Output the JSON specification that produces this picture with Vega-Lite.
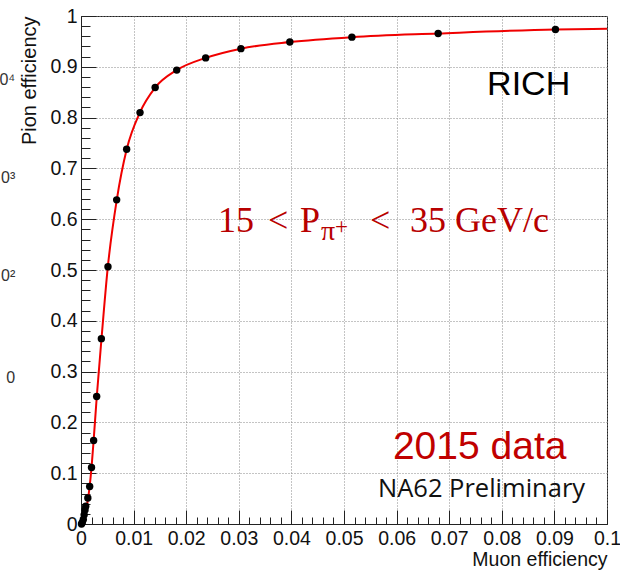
{
  "$schema": "https://vega.github.io/schema/vega-lite/v6.json",
  "autosize": "none",
  "padding": {"left": 81, "top": 16, "right": 13, "bottom": 46},
  "width": 526,
  "height": 508,
  "background": "white",
  "config": {
    "view": {"stroke": "#222", "strokeWidth": 1}
  },
  "datasets": {
    "pts": [
      {"x": 0.0001, "y": 0.0},
      {"x": 0.00025, "y": 0.003},
      {"x": 0.00044, "y": 0.009},
      {"x": 0.0006, "y": 0.018},
      {"x": 0.00076, "y": 0.0276},
      {"x": 0.0009, "y": 0.035},
      {"x": 0.0013, "y": 0.0513},
      {"x": 0.00165, "y": 0.0737},
      {"x": 0.002, "y": 0.1112},
      {"x": 0.0024, "y": 0.1645},
      {"x": 0.00298, "y": 0.2509},
      {"x": 0.00387, "y": 0.3649},
      {"x": 0.00513, "y": 0.5064},
      {"x": 0.00678, "y": 0.6381},
      {"x": 0.00868, "y": 0.7377},
      {"x": 0.01122, "y": 0.8098},
      {"x": 0.0141, "y": 0.8591},
      {"x": 0.0182, "y": 0.8935},
      {"x": 0.0237, "y": 0.9175},
      {"x": 0.0304, "y": 0.9357},
      {"x": 0.0397, "y": 0.9487},
      {"x": 0.0515, "y": 0.9584},
      {"x": 0.0679, "y": 0.9656},
      {"x": 0.0902, "y": 0.9735}
    ],
    "fit": [
      {"x": 0, "y": 0},
      {"x": 0.0005, "y": 0.012},
      {"x": 0.001, "y": 0.03},
      {"x": 0.0015, "y": 0.062},
      {"x": 0.002, "y": 0.111},
      {"x": 0.0024, "y": 0.1645},
      {"x": 0.003, "y": 0.251},
      {"x": 0.0039, "y": 0.365},
      {"x": 0.0051, "y": 0.506},
      {"x": 0.0068, "y": 0.638},
      {"x": 0.0087, "y": 0.738},
      {"x": 0.0112, "y": 0.81},
      {"x": 0.0141, "y": 0.859},
      {"x": 0.0182, "y": 0.8935},
      {"x": 0.0237, "y": 0.9175},
      {"x": 0.0304, "y": 0.9357},
      {"x": 0.0397, "y": 0.9487},
      {"x": 0.0515, "y": 0.9584},
      {"x": 0.0679, "y": 0.9656},
      {"x": 0.0902, "y": 0.9735},
      {"x": 0.1, "y": 0.9748}
    ]
  },
  "resolve": {"axis": {"x": "independent", "y": "independent"}},
  "layer": [
    {
      "data": {"name": "fit"},
      "mark": {"type": "line", "color": "#f00000", "strokeWidth": 2, "interpolate": "monotone"},
      "encoding": {
        "x": {
          "field": "x", "type": "quantitative",
          "scale": {"domain": [0, 0.1], "nice": false, "zero": false},
          "axis": {
            "orient": "bottom",
            "title": "Muon efficiency",
            "values": [0, 0.01, 0.02, 0.03, 0.04, 0.05, 0.06, 0.07, 0.08, 0.09, 0.1],
            "labelExpr": "format(datum.value, '.2~f')",
            "tickSize": -14,
            "tickColor": "#222",
            "domainColor": "#222",
            "grid": true,
            "gridColor": "#888",
            "gridDash": [1, 2],
            "gridWidth": 1,
            "labelFont": "Liberation Sans",
            "labelFontSize": 19.5,
            "labelColor": "#111",
            "labelPadding": 19,
            "labelOverlap": false,
            "labelFlush": false,
            "labelBound": false,
            "titleFont": "Liberation Sans",
            "titleFontSize": 19.5,
            "titleFontWeight": "normal",
            "titleColor": "#111",
            "titleAnchor": "end",
            "titleAlign": "right",
            "titleBaseline": "alphabetic",
            "titleX": 526,
            "titleY": 41.5
          }
        },
        "y": {
          "field": "y", "type": "quantitative",
          "scale": {"domain": [0, 1], "nice": false, "zero": false},
          "axis": {
            "orient": "left",
            "title": "Pion efficiency",
            "values": [0, 0.1, 0.2, 0.3, 0.4, 0.5, 0.6, 0.7, 0.8, 0.9, 1],
            "labelExpr": "format(datum.value, '.1~f')",
            "tickSize": -15,
            "tickColor": "#222",
            "domainColor": "#222",
            "grid": true,
            "gridColor": "#888",
            "gridDash": [1, 2],
            "gridWidth": 1,
            "labelFont": "Liberation Sans",
            "labelFontSize": 19.5,
            "labelColor": "#111",
            "labelPadding": 19,
            "labelOverlap": false,
            "labelFlush": false,
            "labelBound": false,
            "titleFont": "Liberation Sans",
            "titleFontSize": 20,
            "titleFontWeight": "normal",
            "titleColor": "#111",
            "titleAngle": 270,
            "titleAlign": "right",
            "titleBaseline": "top",
            "titleX": -62,
            "titleY": 0
          }
        }
      }
    },
    {
      "data": {"name": "pts"},
      "mark": {"type": "circle", "color": "#000", "size": 55, "opacity": 1},
      "encoding": {
        "x": {
          "field": "x", "type": "quantitative",
          "scale": {"domain": [0, 0.1], "nice": false, "zero": false},
          "axis": {
            "orient": "bottom",
            "title": null,
            "values": [0,0.002,0.004,0.006,0.008,0.01,0.012,0.014,0.016,0.018,0.02,0.022,0.024,0.026,0.028,0.03,0.032,0.034,0.036,0.038,0.04,0.042,0.044,0.046,0.048,0.05,0.052,0.054,0.056,0.058,0.06,0.062,0.064,0.066,0.068,0.07,0.072,0.074,0.076,0.078,0.08,0.082,0.084,0.086,0.088,0.09,0.092,0.094,0.096,0.098,0.1],
            "labels": false,
            "grid": false,
            "domain": false,
            "tickSize": -7,
            "tickColor": "#222"
          }
        },
        "y": {
          "field": "y", "type": "quantitative",
          "scale": {"domain": [0, 1], "nice": false, "zero": false},
          "axis": {
            "orient": "left",
            "title": null,
            "values": [0,0.02,0.04,0.06,0.08,0.1,0.12,0.14,0.16,0.18,0.2,0.22,0.24,0.26,0.28,0.3,0.32,0.34,0.36,0.38,0.4,0.42,0.44,0.46,0.48,0.5,0.52,0.54,0.56,0.58,0.6,0.62,0.64,0.66,0.68,0.7,0.72,0.74,0.76,0.78,0.8,0.82,0.84,0.86,0.88,0.9,0.92,0.94,0.96,0.98,1],
            "labels": false,
            "grid": false,
            "domain": false,
            "tickSize": -9,
            "tickColor": "#222"
          }
        }
      }
    },
    {
      "data": {"values": [{"x": 0.0772, "y": 0.845, "t": "RICH"}]},
      "mark": {"type": "text", "font": "Liberation Sans", "fontSize": 34, "color": "#000", "align": "left", "baseline": "alphabetic"},
      "encoding": {
        "x": {"field": "x", "type": "quantitative", "axis": null},
        "y": {"field": "y", "type": "quantitative", "axis": null},
        "text": {"field": "t"}
      }
    },
    {
      "data": {"values": [
        {"x": 0.02605, "y": 0.575, "t": "15"},
        {"x": 0.03555, "y": 0.575, "t": "<"},
        {"x": 0.04163, "y": 0.575, "t": "P"},
        {"x": 0.05494, "y": 0.575, "t": "<"},
        {"x": 0.06255, "y": 0.575, "t": "35 GeV/c"}
      ]},
      "mark": {"type": "text", "font": "Liberation Serif", "fontSize": 36, "color": "#b80000", "align": "left", "baseline": "alphabetic"},
      "encoding": {
        "x": {"field": "x", "type": "quantitative", "axis": null},
        "y": {"field": "y", "type": "quantitative", "axis": null},
        "text": {"field": "t"}
      }
    },
    {
      "data": {"values": [{"x": 0.04563, "y": 0.559, "t": "π"}]},
      "mark": {"type": "text", "font": "Liberation Serif", "fontSize": 28, "color": "#b80000", "align": "left", "baseline": "alphabetic"},
      "encoding": {
        "x": {"field": "x", "type": "quantitative", "axis": null},
        "y": {"field": "y", "type": "quantitative", "axis": null},
        "text": {"field": "t"}
      }
    },
    {
      "data": {"values": [{"x": 0.04829, "y": 0.571, "t": "+"}]},
      "mark": {"type": "text", "font": "Liberation Serif", "fontSize": 23, "color": "#b80000", "align": "left", "baseline": "alphabetic"},
      "encoding": {
        "x": {"field": "x", "type": "quantitative", "axis": null},
        "y": {"field": "y", "type": "quantitative", "axis": null},
        "text": {"field": "t"}
      }
    },
    {
      "data": {"values": [{"x": 0.0593, "y": 0.128, "t": "2015 data"}]},
      "mark": {"type": "text", "font": "Liberation Sans", "fontSize": 39, "color": "#c00000", "align": "left", "baseline": "alphabetic"},
      "encoding": {
        "x": {"field": "x", "type": "quantitative", "axis": null},
        "y": {"field": "y", "type": "quantitative", "axis": null},
        "text": {"field": "t"}
      }
    },
    {
      "data": {"values": [{"x": 0.05646, "y": 0.0531, "t": "NA62 Preliminary"}]},
      "mark": {"type": "text", "font": "Open Sans", "fontSize": 25.5, "color": "#111", "align": "left", "baseline": "alphabetic"},
      "encoding": {
        "x": {"field": "x", "type": "quantitative", "axis": null},
        "y": {"field": "y", "type": "quantitative", "axis": null},
        "text": {"field": "t"}
      }
    },
    {
      "data": {"values": [
        {"x": -0.0125, "y": 0.874, "t": "0⁴"},
        {"x": -0.0125, "y": 0.681, "t": "0³"},
        {"x": -0.0125, "y": 0.488, "t": "0²"},
        {"x": -0.0125, "y": 0.287, "t": "0"}
      ]},
      "mark": {"type": "text", "font": "Liberation Sans", "fontSize": 16, "color": "#333", "align": "right", "baseline": "middle"},
      "encoding": {
        "x": {"field": "x", "type": "quantitative", "axis": null},
        "y": {"field": "y", "type": "quantitative", "axis": null},
        "text": {"field": "t"}
      }
    }
  ]
}
